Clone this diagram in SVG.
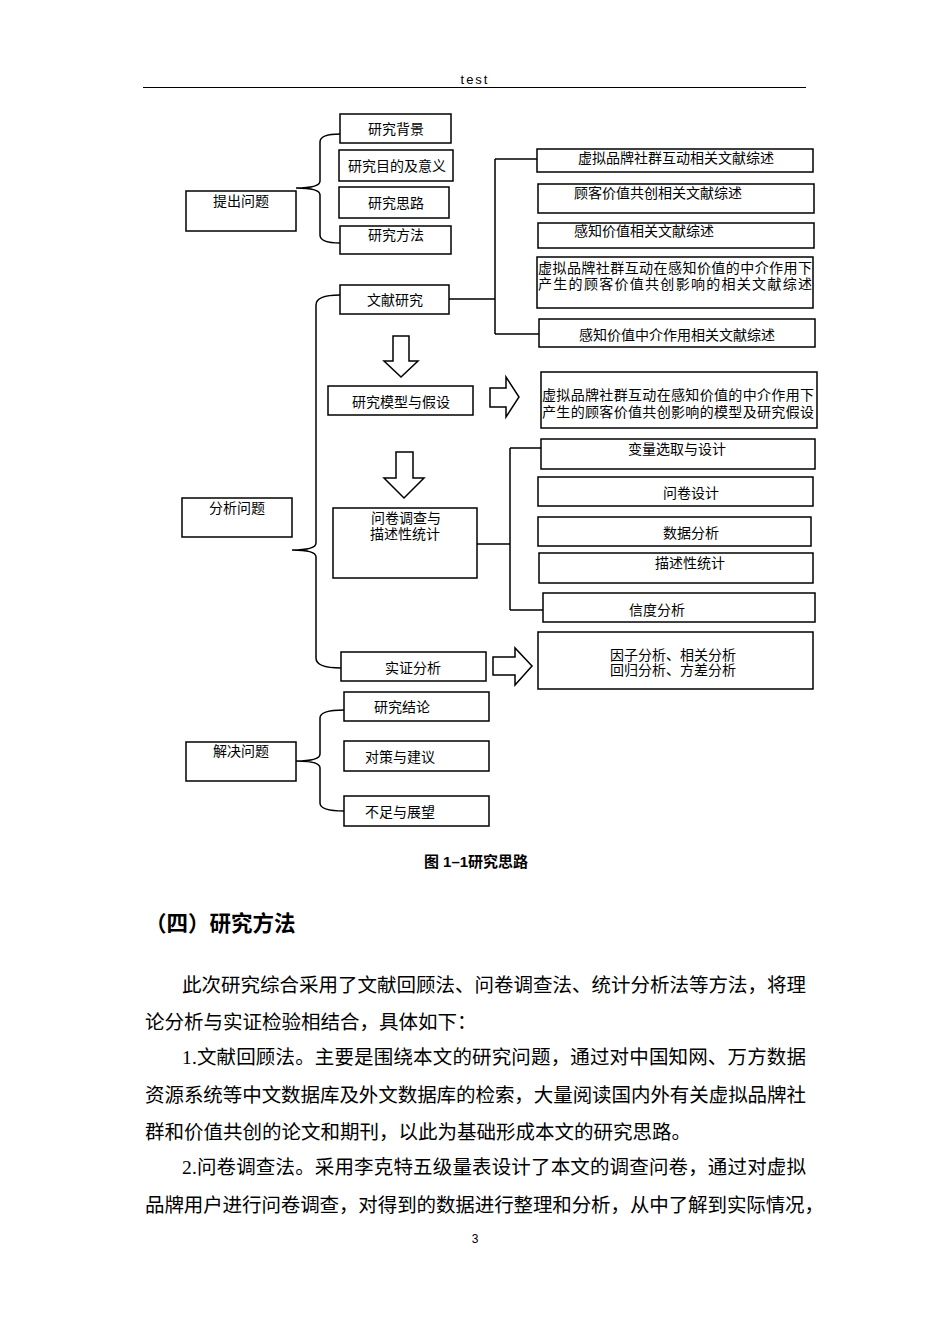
<svg xmlns="http://www.w3.org/2000/svg" width="950" height="1344" viewBox="0 0 950 1344">
<style>
.bx{fill:#fff;stroke:#000;stroke-width:1.5}
.ln{fill:none;stroke:#000;stroke-width:1.5}
.ar{fill:#fff;stroke:#000;stroke-width:1.5;stroke-linejoin:miter}
.t{font-family:"Liberation Serif","Noto Sans CJK SC",serif;font-size:14px;fill:#000;text-anchor:middle}
.tl{font-family:"Liberation Serif","Noto Sans CJK SC",serif;font-size:14px;fill:#000}
.b{font-family:"Liberation Serif","Noto Sans CJK SC",serif;font-size:19.5px;fill:#000}
</style>
<rect width="950" height="1344" fill="#fff"/>
<text x="475" y="84" style="font-family:'Liberation Sans',sans-serif;font-size:13px;letter-spacing:2px" text-anchor="middle" fill="#000">test</text>
<line x1="143" y1="87.5" x2="806" y2="87.5" stroke="#000" stroke-width="1"/>

<g id="connectors">
<path class="ln" d="M340,134 Q320,134 320,142 L320,181 Q320,188 296,188 Q320,188 320,195 L320,235 Q320,243 340,243"/>
<path class="ln" d="M340,295 Q316,295 316,305 L316,543 Q316,550 292,550 Q316,550 316,557 L316,658 Q316,668 341,668"/>
<path class="ln" d="M344,710 Q320,710 320,718 L320,754 Q320,761 296,761 Q320,761 320,768 L320,803 Q320,811 344,811"/>
<path class="ln" d="M449,299 L495,299 M495,159 L495,334 M495,159 L537,159 M495,334 L539,334"/>
<path class="ln" d="M477,544 L510,544 M510,448 L510,610 M510,448 L541,448 M510,610 L543,610"/>
<polygon class="ar" points="393,336 409,336 409,361 418,361 401,377 384,361 393,361"/>
<polygon class="ar" points="396,452 413,452 413,478 424,478 404,498 384,478 396,478"/>
<polygon class="ar" points="490,388 506,388 506,377 519,397 506,417 506,407 490,407"/>
<polygon class="ar" points="493,657 515,657 515,648 532,666 515,685 515,675 493,675"/>
</g>

<g id="n-tichu"><rect class="bx" x="186" y="191" width="110" height="40"/><text class="t" x="241" y="206">提出问题</text></g>
<g id="n-beijing"><rect class="bx" x="340" y="114" width="111" height="29"/><text class="t" x="396" y="134">研究背景</text></g>
<g id="n-mudi"><rect class="bx" x="339" y="150" width="114" height="31"/><text class="t" x="397" y="171">研究目的及意义</text></g>
<g id="n-silu"><rect class="bx" x="339" y="187" width="110" height="31"/><text class="t" x="396" y="208">研究思路</text></g>
<g id="n-fangfa"><rect class="bx" x="340" y="226" width="111" height="28"/><text class="t" x="396" y="240">研究方法</text></g>

<g id="n-wenxian"><rect class="bx" x="340" y="285" width="109" height="29"/><text class="t" x="395" y="305">文献研究</text></g>
<g id="n-w1"><rect class="bx" x="537" y="149" width="276" height="23"/><text class="t" x="676" y="163">虚拟品牌社群互动相关文献综述</text></g>
<g id="n-w2"><rect class="bx" x="538" y="184" width="276" height="29"/><text class="t" x="658" y="198">顾客价值共创相关文献综述</text></g>
<g id="n-w3"><rect class="bx" x="538" y="223" width="276" height="25"/><text class="t" x="644" y="236">感知价值相关文献综述</text></g>
<g id="n-w4"><rect class="bx" x="537" y="257" width="276" height="51"/><text class="tl" x="538" y="273" textLength="274" lengthAdjust="spacing">虚拟品牌社群互动在感知价值的中介作用下</text><text class="tl" x="538" y="289" textLength="274" lengthAdjust="spacing">产生的顾客价值共创影响的相关文献综述</text></g>
<g id="n-w5"><rect class="bx" x="539" y="319" width="276" height="28"/><text class="t" x="677" y="340">感知价值中介作用相关文献综述</text></g>

<g id="n-moxing"><rect class="bx" x="328" y="386" width="145" height="29"/><text class="t" x="401" y="407">研究模型与假设</text></g>
<g id="n-m1"><rect class="bx" x="541" y="372" width="276" height="56"/><text class="tl" x="542" y="400" textLength="272" lengthAdjust="spacing">虚拟品牌社群互动在感知价值的中介作用下</text><text class="tl" x="542" y="417" textLength="272" lengthAdjust="spacing">产生的顾客价值共创影响的模型及研究假设</text></g>

<g id="n-fenxi"><rect class="bx" x="182" y="498" width="110" height="39"/><text class="t" x="237" y="513">分析问题</text></g>
<g id="n-wenjuan"><rect class="bx" x="333" y="508" width="144" height="70"/><text class="t" x="406" y="523">问卷调查与</text><text class="t" x="405" y="539">描述性统计</text></g>
<g id="n-q1"><rect class="bx" x="541" y="439" width="274" height="30"/><text class="t" x="677" y="454">变量选取与设计</text></g>
<g id="n-q2"><rect class="bx" x="538" y="477" width="275" height="29"/><text class="t" x="691" y="498">问卷设计</text></g>
<g id="n-q3"><rect class="bx" x="538" y="517" width="273" height="29"/><text class="t" x="691" y="538">数据分析</text></g>
<g id="n-q4"><rect class="bx" x="539" y="553" width="274" height="30"/><text class="t" x="690" y="568">描述性统计</text></g>
<g id="n-q5"><rect class="bx" x="543" y="593" width="272" height="29"/><text class="t" x="657" y="615">信度分析</text></g>

<g id="n-shizheng"><rect class="bx" x="341" y="652" width="145" height="29"/><text class="t" x="413" y="673">实证分析</text></g>
<g id="n-s1"><rect class="bx" x="538" y="632" width="275" height="57"/><text class="t" x="673" y="660">因子分析、相关分析</text><text class="t" x="673" y="675">回归分析、方差分析</text></g>

<g id="n-jiejue"><rect class="bx" x="186" y="742" width="110" height="39"/><text class="t" x="241" y="756">解决问题</text></g>
<g id="n-jielun"><rect class="bx" x="344" y="692" width="145" height="29"/><text class="t" x="402" y="712">研究结论</text></g>
<g id="n-duice"><rect class="bx" x="344" y="741" width="145" height="30"/><text class="t" x="400" y="762">对策与建议</text></g>
<g id="n-buzu"><rect class="bx" x="344" y="796" width="145" height="30"/><text class="t" x="400" y="817">不足与展望</text></g>

<text x="476" y="867" text-anchor="middle" style="font-family:'Liberation Sans','Noto Sans CJK SC',sans-serif;font-size:15px;font-weight:bold" fill="#000">图 1–1研究思路</text>

<text x="145" y="931" style="font-family:'Liberation Serif','Noto Sans CJK SC',sans-serif;font-size:21.5px;font-weight:bold" fill="#000">（四）研究方法</text>

<text class="b" x="182" y="992" textLength="624" lengthAdjust="spacing">此次研究综合采用了文献回顾法、问卷调查法、统计分析法等方法，将理</text>
<text class="b" x="145" y="1029">论分析与实证检验相结合，具体如下：</text>
<text class="b" x="182" y="1064" textLength="624" lengthAdjust="spacing">1.文献回顾法。主要是围绕本文的研究问题，通过对中国知网、万方数据</text>
<text class="b" x="145" y="1102" textLength="661" lengthAdjust="spacing">资源系统等中文数据库及外文数据库的检索，大量阅读国内外有关虚拟品牌社</text>
<text class="b" x="145" y="1139">群和价值共创的论文和期刊，以此为基础形成本文的研究思路。</text>
<text class="b" x="182" y="1174" textLength="624" lengthAdjust="spacing">2.问卷调查法。采用李克特五级量表设计了本文的调查问卷，通过对虚拟</text>
<text class="b" x="145" y="1212" textLength="679" lengthAdjust="spacing">品牌用户进行问卷调查，对得到的数据进行整理和分析，从中了解到实际情况，</text>

<text x="475" y="1243" text-anchor="middle" style="font-family:'Liberation Sans',sans-serif;font-size:12px" fill="#000">3</text>
</svg>
